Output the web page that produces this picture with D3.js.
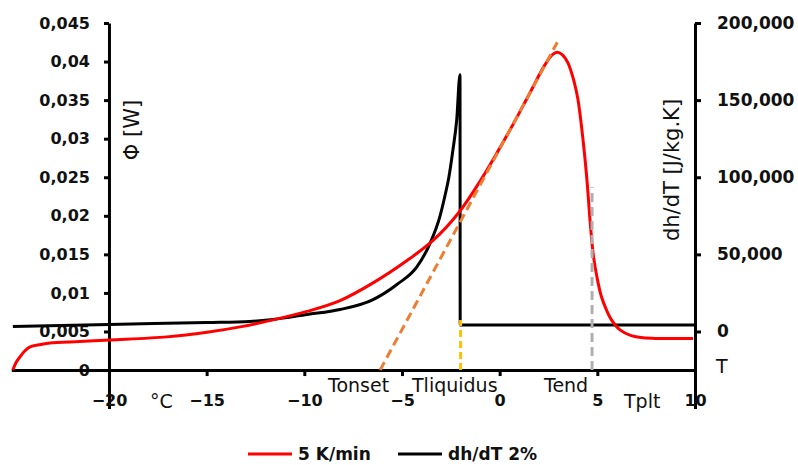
<!DOCTYPE html>
<html>
<head>
<meta charset="utf-8">
<script src="https://d3js.org/d3.v7.min.js"></script>
<style>
  body { margin: 0; background: #fff; }
  text { font-family: "DejaVu Sans", sans-serif; fill: #111; }
  .axis path, .axis line { stroke: #000; stroke-width: 3; }
  .axis text { font-size: 16px; font-weight: bold; fill: #111; }
</style>
</head>
<body>
<div id="chart"></div>
<script>
// red curve: heat flow at 5 K/min (left axis, W)
var redT   = [-24.92, -24.75, -24.56, -24.3, -24.04, -23.5, -23.02, -21.5, -19.95, -17.03, -14.98, -13.29, -11.6, -9.86, -8.17, -6.48, -4.74, -3.41, -2.13, -1.0, 0.5, 1.5, 2.3, 2.7, 2.95, 3.2, 3.5, 3.8, 4.0, 4.27, 4.47, 4.63, 4.8, 5.0, 5.2, 5.45, 5.7, 6.16, 6.7, 7.34, 9.9];
var redPhi = [0, 0.0010, 0.0017, 0.0025, 0.0030, 0.0033, 0.0035, 0.0037, 0.0039, 0.0043, 0.0049, 0.0056, 0.0065, 0.0076, 0.0090, 0.0113, 0.0142, 0.0168, 0.0203, 0.0245, 0.0310, 0.0357, 0.0395, 0.0409, 0.0412, 0.0409, 0.0398, 0.0375, 0.0352, 0.0298, 0.0246, 0.0193, 0.0148, 0.0118, 0.0096, 0.0079, 0.0066, 0.0052, 0.0045, 0.0042, 0.0041];

// black curve: dh/dT 2% (right axis, J/kg.K)
var dhT   = [-24.92, -20, -15, -12.78, -11.6, -9.86, -8.17, -6.48, -5.26, -4.23, -3.57, -3.05, -2.8, -2.6, -2.4, -2.2, -2.03, -2.02, 10];
var dhVal = [3240, 4530, 5800, 6480, 7770, 11000, 14250, 20700, 30500, 42000, 57000, 75000, 88000, 100000, 117000, 137000, 166500, 4200, 4200];

// construction lines (left axis)
var onsetT = [-6.12, 2.95], onsetPhi = [0, 0.0425];
var liqT = [-2.0, -2.0], liqPhi = [0, 0.0065];
var endT = [4.73, 4.73], endPhi = [0, 0.0237];

var leftTicks = [0, 0.005, 0.01, 0.015, 0.02, 0.025, 0.03, 0.035, 0.04, 0.045];
var rightTicks = [0, 50000, 100000, 150000, 200000];
var xTicks = [-20, -15, -10, -5, 0, 5, 10];

var width = 798, height = 465;

var svg = d3.select("#chart").append("svg")
  .attr("width", width)
  .attr("height", height);

var x = d3.scaleLinear().domain([-25, 10]).range([11.3, 695]);
var yL = d3.scaleLinear().domain([-0.005, 0.045]).range([408.6, 23]);
var yR = d3.scaleLinear().domain([-50000, 200000]).range([408.6, 23]);

// axes
svg.append("g").attr("class", "axis")
  .attr("transform", "translate(" + x(-20) + ",0)")
  .call(d3.axisLeft(yL).tickValues(leftTicks).tickSize(5).tickSizeOuter(0).tickPadding(14)
    .tickFormat(function(d) { return d === 0 ? "0" : String(+d.toFixed(3)).replace(".", ","); }));

svg.append("g").attr("class", "axis")
  .attr("transform", "translate(" + x(10) + ",0)")
  .call(d3.axisRight(yR).tickValues(rightTicks).tickSize(6).tickSizeOuter(0).tickPadding(16)
    .tickFormat(d3.format(",")))
  .selectAll("text").style("font-size", "17px");

svg.append("g").attr("class", "axis")
  .attr("transform", "translate(0," + yL(0) + ")")
  .call(d3.axisBottom(x).tickValues(xTicks).tickSize(6).tickSizeOuter(0).tickPadding(19));

// series
var redData = redT.map(function(t, i) { return [t, redPhi[i]]; });
var dhData = dhT.map(function(t, i) { return [t, dhVal[i]]; });

var lineL = d3.line().x(function(d) { return x(d[0]); }).y(function(d) { return yL(d[1]); });
var lineR = d3.line().x(function(d) { return x(d[0]); }).y(function(d) { return yR(d[1]); });

svg.append("path")
  .datum(dhData)
  .attr("d", lineR.curve(d3.curveMonotoneX))
  .attr("fill", "none").attr("stroke", "#000").attr("stroke-width", 3);

svg.append("path")
  .datum(redData)
  .attr("d", lineL.curve(d3.curveCatmullRom.alpha(0.5)))
  .attr("fill", "none").attr("stroke", "#ff0000").attr("stroke-width", 3);

function dashLine(ts, vs, color, dash) {
  var pts = ts.map(function(t, i) { return [t, vs[i]]; });
  svg.append("path")
    .datum(pts)
    .attr("d", d3.line().x(function(d) { return x(d[0]); }).y(function(d) { return yL(d[1]); }))
    .attr("fill", "none").attr("stroke", color).attr("stroke-width", 3)
    .attr("stroke-dasharray", dash);
}
dashLine(onsetT, onsetPhi, "#ed7d31", "9,5");
dashLine(liqT, liqPhi, "#ffc000", "7,4");
dashLine(endT, endPhi, "#afafaf", "9,5");

// axis titles
svg.append("text")
  .attr("transform", "translate(139,130) rotate(-90)")
  .attr("text-anchor", "middle")
  .style("font-size", "21px")
  .text("Φ [W]");

svg.append("text")
  .attr("transform", "translate(679,170) rotate(-90)")
  .attr("text-anchor", "middle")
  .style("font-size", "21px")
  .text("dh/dT [J/kg.K]");

// annotations
var notes = [
  { t: "Tonset", x: 328, y: 392 },
  { t: "Tliquidus", x: 412, y: 392 },
  { t: "Tend", x: 544, y: 392 },
  { t: "Tplt", x: 624, y: 408 },
  { t: "°C", x: 150, y: 408 },
  { t: "T", x: 716, y: 373 }
];
svg.selectAll(".note").data(notes).enter().append("text")
  .attr("class", "note")
  .attr("x", function(d) { return d.x; })
  .attr("y", function(d) { return d.y; })
  .style("font-size", "19px")
  .text(function(d) { return d.t; });

// legend
var legend = [
  { label: "5 K/min", color: "#ff0000", x: 248 },
  { label: "dh/dT 2%", color: "#000", x: 398 }
];
var lg = svg.selectAll(".lg").data(legend).enter().append("g").attr("class", "lg");
lg.append("line")
  .attr("x1", function(d) { return d.x; })
  .attr("x2", function(d) { return d.x + 44; })
  .attr("y1", 454).attr("y2", 454)
  .attr("stroke", function(d) { return d.color; })
  .attr("stroke-width", 3);
lg.append("text")
  .attr("x", function(d) { return d.x + 50; })
  .attr("y", 460)
  .style("font-size", "17px")
  .style("font-weight", "bold")
  .text(function(d) { return d.label; });
</script>
</body>
</html>
